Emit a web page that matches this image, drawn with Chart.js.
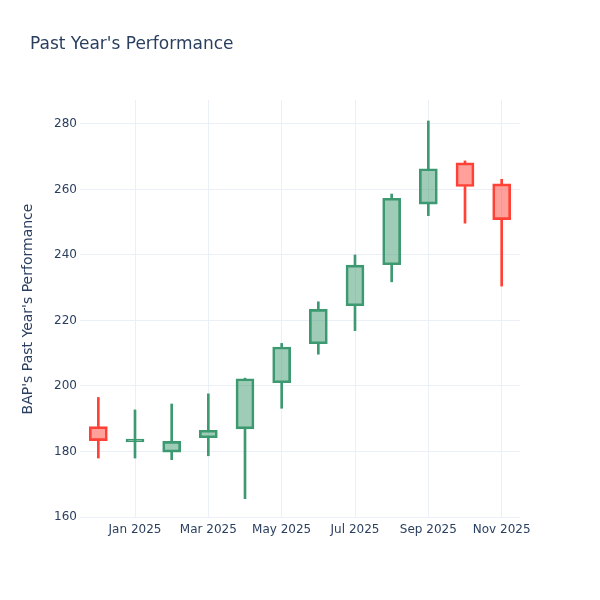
<!DOCTYPE html>
<html>
<head>
    <title>Past Year's Performance</title>
    <script src="https://cdn.jsdelivr.net/npm/chart.js"></script>
    <style>
        body { margin: 0; background: #fff; }
    </style>
</head>
<body>
    <canvas id="myChart" width="600" height="600"></canvas>

    <script>
        // dati mensili (OHLC)
        const months = ['Dec 2024', 'Jan 2025', 'Feb 2025', 'Mar 2025', 'Apr 2025', 'May 2025',
                        'Jun 2025', 'Jul 2025', 'Aug 2025', 'Sep 2025', 'Oct 2025', 'Nov 2025'];
        const openVals  = [187.6, 182.9, 179.8, 184.2, 186.9, 201.0, 212.9, 224.5, 237.0, 255.5, 268.1, 261.7];
        const highVals  = [196.5, 192.7, 194.5, 197.6, 202.4, 213.0, 225.7, 240.0, 258.6, 280.9, 268.7, 263.1];
        const lowVals   = [178.0, 178.0, 177.5, 178.7, 165.6, 193.2, 209.7, 216.9, 231.8, 252.0, 249.7, 230.5];
        const closeVals = [183.3, 183.2, 183.1, 186.5, 202.2, 211.9, 223.4, 236.9, 257.3, 266.3, 260.9, 250.8];
        const xTickLabels = ['', 'Jan 2025', '', 'Mar 2025', '', 'May 2025', '', 'Jul 2025', '', 'Sep 2025', '', 'Nov 2025'];
        const yTicks = [160, 180, 200, 220, 240, 260, 280];

        const upLine = '#3D9970', upFill = 'rgba(61,153,112,0.5)';
        const downLine = '#FF4136', downFill = 'rgba(255,65,54,0.5)';
        const textColor = '#2a3f5f';
        const gridColor = '#EBF0F8';

        const isUp = openVals.map((o, i) => closeVals[i] >= o);
        const lineColors = isUp.map(u => u ? upLine : downLine);
        const fillColors = isUp.map(u => u ? upFill : downFill);

        const bodies = openVals.map((o, i) => [o, closeVals[i]]);
        const upperWicks = openVals.map((o, i) => [Math.max(o, closeVals[i]), highVals[i]]);
        const lowerWicks = openVals.map((o, i) => [lowVals[i], Math.min(o, closeVals[i])]);

        Chart.defaults.font.family = 'DejaVu Sans';

        // titolo in alto a sinistra
        const titlePlugin = {
            id: 'plotTitle',
            afterDraw(chart) {
                const c = chart.ctx;
                c.save();
                c.font = '17px "DejaVu Sans"';
                c.fillStyle = textColor;
                c.textBaseline = 'middle';
                c.fillText("Past Year's Performance", 30, 45);
                c.restore();
            }
        };

        const ctx = document.getElementById('myChart').getContext('2d');
        new Chart(ctx, {
            type: 'bar',
            data: {
                labels: months,
                datasets: [
                    {
                        label: 'body',
                        data: bodies,
                        backgroundColor: fillColors,
                        borderColor: lineColors,
                        borderWidth: 2,
                        borderSkipped: false,
                        barThickness: 18,
                        minBarLength: 3,
                        grouped: false,
                        order: 0
                    },
                    {
                        label: 'upper',
                        data: upperWicks,
                        backgroundColor: lineColors,
                        borderWidth: 0,
                        barThickness: 2,
                        grouped: false,
                        order: 1
                    },
                    {
                        label: 'lower',
                        data: lowerWicks,
                        backgroundColor: lineColors,
                        borderWidth: 0,
                        barThickness: 2,
                        grouped: false,
                        order: 1
                    }
                ]
            },
            options: {
                responsive: false,
                animation: false,
                devicePixelRatio: 1,
                layout: { padding: { left: 16, right: 80, top: 100, bottom: 52 } },
                plugins: {
                    legend: { display: false },
                    tooltip: { enabled: false },
                    title: { display: false }
                },
                scales: {
                    x: {
                        offset: true,
                        grid: {
                            offset: false,
                            drawTicks: false,
                            color: (c) => (c.index % 2 === 1 ? gridColor : 'rgba(0,0,0,0)'),
                            lineWidth: 1
                        },
                        border: { display: false },
                        ticks: {
                            color: textColor,
                            font: { size: 12 },
                            padding: 5,
                            autoSkip: false,
                            maxRotation: 0,
                            callback: (v, i) => xTickLabels[i]
                        },
                        afterFit: (s) => { s.height = 30; }
                    },
                    y: {
                        min: 159.7,
                        max: 287.3,
                        afterBuildTicks: (s) => { s.ticks = yTicks.map(v => ({ value: v })); },
                        grid: { color: gridColor, drawTicks: false },
                        border: { display: false },
                        ticks: {
                            color: textColor,
                            font: { size: 12 },
                            padding: 3
                        },
                        title: {
                            display: true,
                            text: "BAP's Past Year's Performance",
                            color: textColor,
                            font: { size: 14 },
                            padding: { top: 4, bottom: 4 }
                        },
                        afterFit: (s) => { s.width = 64; }
                    }
                }
            },
            plugins: [titlePlugin]
        });
    </script>
</body>
</html>
